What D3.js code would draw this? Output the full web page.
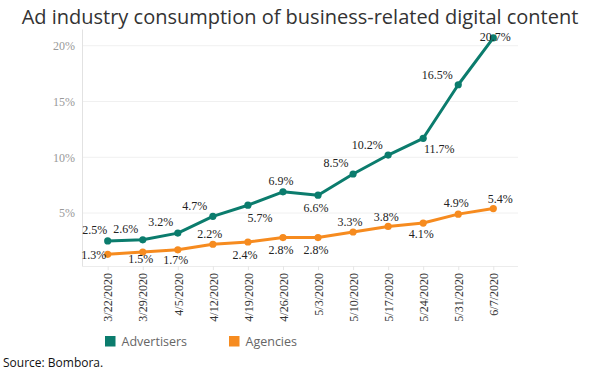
<!DOCTYPE html>
<html>
<head>
<meta charset="utf-8">
<script src="https://cdn.jsdelivr.net/npm/d3@7"></script>
<style>
  html, body { margin: 0; padding: 0; background: #fff; }
  svg { display: block; }
</style>
</head>
<body>
<svg id="chart" width="600" height="375"></svg>
<script>
// ---- data ----
const dates = ["3/22/2020","3/29/2020","4/5/2020","4/12/2020","4/19/2020","4/26/2020","5/3/2020","5/10/2020","5/17/2020","5/24/2020","5/31/2020","6/7/2020"];
const advertisers = [2.5, 2.6, 3.2, 4.7, 5.7, 6.9, 6.6, 8.5, 10.2, 11.7, 16.5, 20.7];
const agencies = [1.3, 1.5, 1.7, 2.2, 2.4, 2.8, 2.8, 3.3, 3.8, 4.1, 4.9, 5.4];
const yTicks = [5, 10, 15, 20];
const seriesNames = ["Advertisers", "Agencies"];

// ---- label placement (style, not data) ----
const advLabelOffsets = [[-13,-11],[-17,-11],[-17,-11],[-18,-11],[12,13],[-2,-11],[-2,13],[-17,-11],[-21,-10],[16,11],[-21,-10],[2,-1]];
const agLabelOffsets = [[-14,1],[-2,7],[-2,10],[-3,-10],[-3,13],[-2,12],[-2,12],[-3,-10],[-2,-10],[-2,11],[-2,-11],[7,-10]];

const colors = { Advertisers: "#0b7c6d", Agencies: "#f68b1f" };

const svg = d3.select("#chart");
const plot = { left: 82, right: 518, top: 29, bottom: 266 };

const x = d3.scalePoint().domain(dates).range([107.7, 493.3]);
const y = d3.scaleLinear().domain([0.25, 21.5]).range([plot.bottom, plot.top]);

// title
svg.append("text")
  .attr("x", 300).attr("y", 24)
  .attr("text-anchor", "middle")
  .attr("font-family", "Open Sans")
  .attr("font-size", 20)
  .attr("fill", "#333")
  .text("Ad industry consumption of business-related digital content");

// gridlines
svg.append("g").selectAll("line").data(yTicks).join("line")
  .attr("x1", plot.left).attr("x2", plot.right)
  .attr("y1", d => y(d)).attr("y2", d => y(d))
  .attr("stroke", "#f0f0f0").attr("stroke-width", 1);

// y axis
const yAxis = svg.append("g").attr("transform", `translate(${plot.left},0)`)
  .call(d3.axisLeft(y).tickValues(yTicks).tickFormat(d => d + "%").tickSize(0).tickPadding(7));
yAxis.select(".domain").attr("stroke", "#e2e2e2");
yAxis.selectAll("text").attr("font-family", "Liberation Serif").attr("font-size", 12).attr("fill", "#999");

// x axis
const xAxis = svg.append("g").attr("transform", `translate(0,${plot.bottom})`)
  .call(d3.axisBottom(x).tickSize(4).tickSizeOuter(0));
xAxis.select(".domain").attr("d", `M${plot.left},0.5H${plot.right}`).attr("stroke", "#ececec");
xAxis.selectAll(".tick line").attr("stroke", "#e6e6e6");
xAxis.selectAll("text")
  .attr("font-family", "Liberation Serif").attr("font-size", 12).attr("fill", "#333")
  .attr("transform", "rotate(-90)")
  .attr("text-anchor", "end")
  .attr("x", -7).attr("y", 0).attr("dy", "0.35em");

// series
const series = [
  { name: "Advertisers", values: advertisers, offsets: advLabelOffsets },
  { name: "Agencies", values: agencies, offsets: agLabelOffsets }
];
const line = d3.line().x((d, i) => x(dates[i])).y(d => y(d));

series.forEach(s => {
  const g = svg.append("g");
  g.append("path").datum(s.values)
    .attr("d", line).attr("fill", "none")
    .attr("stroke", colors[s.name]).attr("stroke-width", 3)
    .attr("stroke-linejoin", "round");
  g.selectAll("circle").data(s.values).join("circle")
    .attr("cx", (d, i) => x(dates[i])).attr("cy", d => y(d))
    .attr("r", 3.6).attr("fill", colors[s.name]);
});

series.forEach(s => {
  svg.append("g").selectAll("text").data(s.values).join("text")
    .attr("x", (d, i) => x(dates[i]) + s.offsets[i][0])
    .attr("y", (d, i) => y(d) + s.offsets[i][1])
    .attr("dy", "0.35em")
    .attr("text-anchor", "middle")
    .attr("font-family", "Liberation Serif").attr("font-size", 12).attr("fill", "#222")
    .text(d => d.toFixed(1) + "%");
});

// legend
const legendX = [105, 229];
const lg = svg.append("g").selectAll("g").data(seriesNames).join("g")
  .attr("transform", (d, i) => `translate(${legendX[i]},336)`);
lg.append("rect").attr("width", 10.5).attr("height", 10.5).attr("fill", d => colors[d]);
lg.append("text").attr("x", 16.5).attr("y", 5.5).attr("dy", "0.35em")
  .attr("font-family", "Open Sans").attr("font-size", 12.5).attr("fill", "#666")
  .text(d => d);

// source
svg.append("text").attr("x", 3).attr("y", 363).attr("dy", "0.35em")
  .attr("font-family", "Open Sans").attr("font-size", 12).attr("fill", "#111")
  .text("Source: Bombora.");
</script>
</body>
</html>
